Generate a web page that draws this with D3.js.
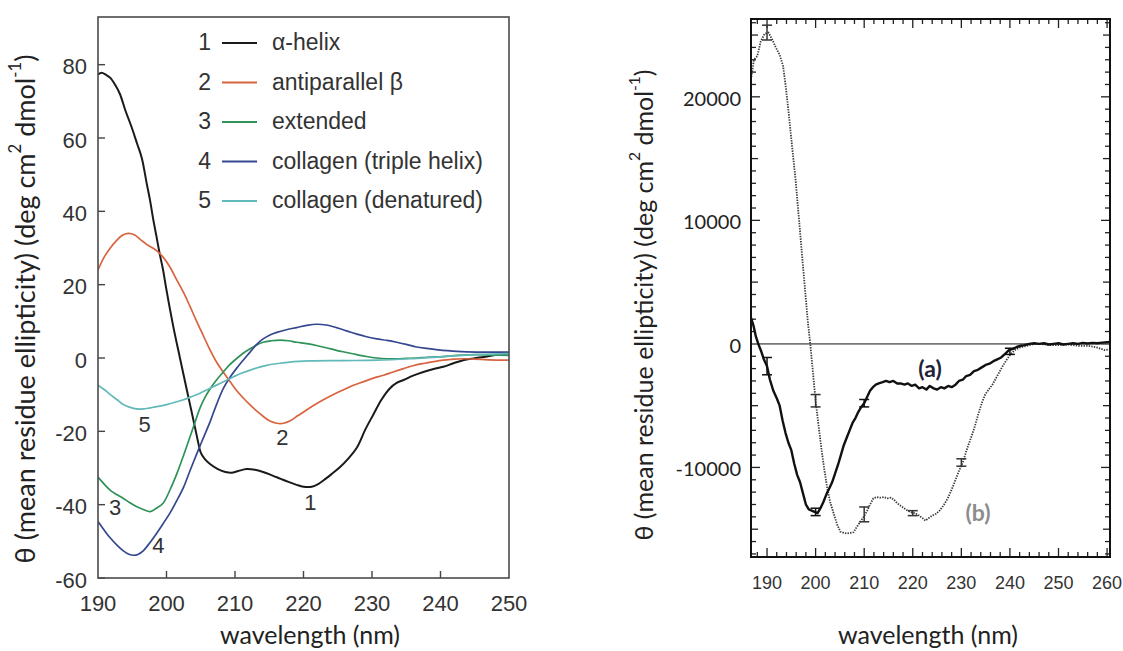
<!DOCTYPE html>
<html><head><meta charset="utf-8">
<script src="https://cdn.jsdelivr.net/npm/d3@7"></script>
<style>html,body{margin:0;padding:0;background:#fff;}svg{display:block;}</style>
</head><body>
<svg id="c" width="1123" height="651"></svg>
<script>
// ---------- LEFT PANEL DATA ----------
const leftXTicks = [190,200,210,220,230,240,250];
const leftYTicks = [-60,-40,-20,0,20,40,60,80];
const legendNums = ["1","2","3","4","5"];
const legendNames = ["\u03b1-helix","antiparallel \u03b2","extended","collagen (triple helix)","collagen (denatured)"];
const seriesColors = ["#1a1a1a","#d8643f","#2f9258","#34478f","#62b9b9"];

const helix = [[190,77.3],[190.5,77.8],[191.2,77.2],[191.8,76.4],[192.5,74.5],[193.2,72],[194,67.5],[194.9,63],[195.7,58.5],[196.4,54.5],[197.1,47.7],[197.6,43],[198,38.5],[198.5,33.5],[199,28.5],[199.5,24],[200,18.5],[201,8.5],[202,-0.3],[203,-9],[204,-17.5],[204.6,-22.8],[205,-25.8],[205.6,-27.6],[206.4,-29],[207.5,-30.3],[208.6,-31.1],[209.5,-31.3],[210.5,-30.8],[211.7,-30.3],[212.9,-30.5],[214.1,-31.1],[215.4,-32],[216.6,-32.9],[217.8,-33.8],[219,-34.6],[220,-35.1],[221.2,-35.1],[222.2,-34.3],[222.9,-33.4],[224,-31.8],[225.3,-29.8],[226.5,-27.5],[227.8,-24.4],[229,-19.6],[230.2,-15.4],[231.4,-11.3],[232.6,-8.3],[233.6,-6.8],[234.6,-6],[236,-4.8],[237.5,-3.8],[239,-3],[240.4,-2.4],[241.8,-1.5],[243.3,-0.6],[244.8,-0.1],[246.3,0.3],[248,0.8],[250,1.2]];
const antiparallel = [[190,24],[190.9,27.5],[191.8,30],[192.7,32],[193.5,33.4],[194.4,34],[195.3,33.6],[196.2,32.3],[197.1,31],[198,30],[198.6,29.2],[199.5,27.5],[200.5,24.8],[201.5,21.3],[202.5,17.8],[203.4,14.2],[204.4,10],[205.4,6],[206.3,2.4],[207.3,-1.1],[208.3,-3.9],[209.3,-6.5],[210.2,-8.8],[211.2,-10.9],[212.2,-12.8],[213.2,-14.5],[214.1,-15.9],[215.1,-17.2],[216.1,-17.8],[217.1,-17.8],[218,-17.2],[219.2,-15.7],[220.5,-14.1],[221.7,-12.7],[222.9,-11.4],[224.3,-10],[225.8,-8.7],[227.2,-7.5],[228.7,-6.5],[230.2,-5.5],[231.7,-4.7],[233.1,-3.8],[234.6,-2.9],[236,-2.1],[237.5,-1.5],[239,-1],[240.4,-0.6],[242,-0.3],[243.3,-0.2],[245,-0.3],[247,-0.5],[250,-0.6]];
const extended = [[190,-32.5],[191,-34.6],[191.8,-36.1],[192.8,-37.3],[193.7,-38.3],[194.6,-39.4],[195.6,-40.5],[196.6,-41.3],[197.6,-41.9],[198.5,-41],[199.5,-39.6],[200.5,-36],[201.5,-31.6],[202.5,-26.5],[203.4,-21.7],[204.2,-17.3],[204.9,-13.6],[205.6,-10.8],[206.4,-8.3],[207.3,-6],[208.3,-3.8],[209.2,-1.9],[210.2,-0.2],[211.2,1.3],[212.2,2.5],[213.1,3.5],[214.1,4.3],[215.3,4.7],[216.6,4.9],[217.8,4.7],[219,4.3],[220.5,3.9],[221.9,3.4],[223.3,2.8],[224.8,2.1],[226.3,1.5],[227.8,0.9],[229.2,0.4],[230.7,0],[232.2,-0.2],[233.6,-0.2],[235,-0.1],[236.5,0],[238,0.2],[239.4,0.3],[241,0.5],[242.4,0.7],[245.3,0.9],[247.5,0.8],[250,0.7]];
const collagenTriple = [[190,-44.6],[191,-47.2],[191.8,-49.1],[192.8,-51.1],[193.7,-52.6],[194.5,-53.5],[195.2,-53.8],[195.9,-53.5],[196.6,-52.6],[197.6,-50.3],[198.6,-47.7],[199.5,-45.2],[200.5,-42.3],[201.5,-38.9],[202.5,-35.2],[203.4,-30.9],[204.4,-26.2],[205.4,-21.7],[206.4,-17.2],[207.3,-12.7],[208.3,-8.3],[209.3,-5.2],[210.2,-2.9],[211.2,-0.6],[212.2,1.6],[213.1,3.6],[214.1,5.2],[215.1,6.3],[216.1,7],[217.5,7.7],[219,8.3],[220.5,8.9],[221.9,9.2],[223.3,9],[224.8,8.3],[226.3,7.4],[227.8,6.5],[229.2,5.8],[230.7,5.2],[232.2,4.8],[233.6,4.3],[235,3.7],[236.5,3],[238,2.6],[239.4,2.3],[241,2],[242.4,1.8],[245.3,1.6],[250,1.6]];
const collagenDenat = [[190,-7.4],[190.9,-8.6],[191.8,-10],[192.8,-11.4],[193.7,-12.7],[194.6,-13.4],[195.6,-13.9],[196.6,-13.9],[197.6,-13.6],[198.8,-13.2],[200,-12.7],[201.2,-12.1],[202.5,-11.4],[203.7,-10.5],[204.9,-9.6],[206.1,-8.5],[207.3,-7.4],[208.6,-6.2],[209.8,-5.1],[211,-4.1],[212.2,-3.3],[213.4,-2.6],[214.6,-2],[216.3,-1.5],[218,-1.1],[220.9,-0.8],[225.8,-0.7],[230.7,-0.6],[235.5,-0.2],[240.4,0.4],[245.3,0.9],[250,1.2]];
const leftSeries = [helix, antiparallel, extended, collagenTriple, collagenDenat];
// curve number labels: [wavelength, value]
const curveLabelNums = ["5","2","1","3","4"];
const curveLabelPos = [[196.8,-18.2],[216.9,-21.8],[221,-39.4],[192.5,-40.7],[198.8,-51.2]];

// ---------- RIGHT PANEL DATA ----------
const rightXTicks = [190,200,210,220,230,240,250,260];
const rightYTicks = [-10000,0,10000,20000];
const sampleA = [[186.7,2100],[187.2,1500],[187.7,600],[188.2,0],[188.8,-600],[189.3,-1200],[190,-1800],[190.6,-2900],[191.3,-3800],[192,-4400],[192.6,-5000],[193.2,-6200],[193.8,-7200],[194.4,-8000],[195,-8600],[195.6,-9700],[196.2,-10600],[196.8,-11200],[197.4,-12100],[198,-13000],[198.6,-13400],[199.2,-13500],[199.8,-13600],[200.4,-13700],[201,-13300],[201.6,-12800],[202.2,-12200],[202.8,-11700],[203.4,-11200],[204,-10500],[204.6,-9800],[205.2,-9000],[205.8,-8200],[206.4,-7600],[207,-7000],[207.6,-6400],[208.2,-6000],[208.8,-5500],[209.4,-5100],[210,-4800],[210.6,-4300],[211.2,-3800],[211.8,-3500],[212.4,-3300],[213,-3200],[213.8,-3100],[214.5,-3000],[215.2,-3100],[216,-3000],[216.8,-3200],[217.5,-3200],[218.3,-3300],[219,-3200],[219.8,-3400],[220.5,-3300],[221.3,-3600],[222,-3500],[222.8,-3700],[223.5,-3400],[224.3,-3600],[225,-3700],[225.8,-3500],[226.5,-3600],[227.3,-3400],[228,-3500],[228.8,-3300],[229.5,-3000],[230.3,-2900],[231,-2600],[231.8,-2500],[232.6,-2200],[233.4,-2100],[234.2,-1900],[235,-1700],[235.8,-1600],[236.6,-1400],[237.4,-1250],[238.2,-1100],[239,-800],[239.8,-500],[240.6,-400],[241.4,-250],[242.2,-150],[243,-100],[244,0],[245,50],[246,0],[247,50],[248,-50],[249,0],[250,50],[251,-50],[252,0],[253,50],[254,0],[255,80],[256,30],[257,80],[258,50],[259,100],[260.6,150]];
const sampleB = [[186.7,21400],[187.3,23000],[188,23300],[188.7,24500],[189.5,25100],[190.3,25200],[191,24700],[191.8,24000],[192.6,23400],[193.3,22500],[193.8,21000],[194.4,18900],[195.1,16200],[195.9,13200],[196.6,10000],[197.2,7200],[197.8,4500],[198.4,1800],[198.9,0],[199.5,-2500],[200,-4600],[200.6,-6600],[201.2,-8500],[201.8,-10200],[202.4,-11700],[203,-12800],[203.7,-13700],[204.4,-14600],[205.1,-15200],[205.8,-15300],[206.5,-15350],[207.2,-15300],[207.8,-15250],[208.5,-14800],[209.2,-14400],[209.9,-14000],[210.5,-13600],[211.2,-13000],[211.9,-12500],[212.6,-12400],[213.3,-12450],[214,-12400],[214.8,-12500],[215.5,-12450],[216.1,-12600],[216.8,-12900],[217.5,-13100],[218.2,-13300],[219,-13500],[219.8,-13650],[220.5,-13700],[221.3,-13900],[222,-14100],[222.6,-14300],[223.3,-14100],[224,-13900],[224.8,-13750],[225.5,-13500],[226.3,-13100],[227.2,-12500],[228,-11800],[228.8,-11000],[229.6,-10200],[230.3,-9600],[231,-8700],[231.8,-7800],[232.6,-6900],[233.4,-5800],[234.2,-4800],[234.9,-4100],[235.6,-3700],[236.4,-3300],[237.1,-2800],[237.8,-2300],[238.5,-1800],[239.3,-1300],[240.2,-800],[241,-500],[242,-300],[243,-200],[244,-100],[245,0],[246.5,0],[248,-100],[250,-100],[252,-50],[254,-150],[256,-150],[258,-300],[259.5,-500],[260.6,-450]];
// error bars: [wavelength, value, half-error]
const errA = [[190,-1800,700],[200,-13600,300],[210,-4800,300],[240,-600,250]];
const errB = [[190,25200,600],[200,-4600,500],[210,-13800,600],[220,-13700,200],[230,-9600,300]];

const svg = d3.select("#c");
const SANS = "'Liberation Sans', Arial, sans-serif";
const HUM = "Lato, 'Open Sans', sans-serif";

// ================= LEFT PANEL =================
const xL = d3.scaleLinear().domain([190,250]).range([98,509]);
const yL = d3.scaleLinear().domain([-60,93]).range([578,17]);
const gL = svg.append("g");

gL.selectAll("line.yt").data(leftYTicks).join("line")
  .attr("x1", xL(190)).attr("x2", xL(190)+7)
  .attr("y1", d=>yL(d)).attr("y2", d=>yL(d))
  .attr("stroke","#444").attr("stroke-width",1.4);
gL.selectAll("line.xt").data(leftXTicks.slice(1,-1)).join("line")
  .attr("x1", d=>xL(d)).attr("x2", d=>xL(d))
  .attr("y1", yL(-60)).attr("y2", yL(-60)-7)
  .attr("stroke","#444").attr("stroke-width",1.4);

gL.selectAll("text.yl").data(leftYTicks).join("text")
  .attr("x", xL(190)-11).attr("y", d=>yL(d)+2)
  .attr("text-anchor","end").attr("dominant-baseline","central")
  .attr("font-family",SANS).attr("font-size",22).attr("fill","#333")
  .text(d=>d);
gL.selectAll("text.xl").data(leftXTicks).join("text")
  .attr("x", d=>xL(d)).attr("y", 603)
  .attr("text-anchor","middle").attr("dominant-baseline","central")
  .attr("font-family",SANS).attr("font-size",22).attr("fill","#333")
  .text(d=>d);

svg.append("clipPath").attr("id","clipL").append("rect")
  .attr("x",xL(190)).attr("y",yL(93)).attr("width",xL(250)-xL(190)).attr("height",yL(-60)-yL(93));

const lineL = d3.line().x(d=>xL(d[0])).y(d=>yL(d[1])).curve(d3.curveCatmullRom.alpha(0.5));
gL.append("g").attr("clip-path","url(#clipL)")
  .selectAll("path").data(leftSeries).join("path")
  .attr("d", lineL).attr("fill","none")
  .attr("stroke",(d,i)=>seriesColors[i]).attr("stroke-width",(d,i)=>i===0?2:1.7);

gL.append("rect").attr("x",xL(190)).attr("y",yL(93))
  .attr("width",xL(250)-xL(190)).attr("height",yL(-60)-yL(93))
  .attr("fill","none").attr("stroke","#4a4a4a").attr("stroke-width",1.6);

// legend
const legY = d3.scalePoint().domain(legendNums).range([42,200]);
const lg = gL.append("g");
lg.selectAll("text.n").data(legendNums).join("text")
  .attr("x",211).attr("y",d=>legY(d)).attr("text-anchor","end").attr("dominant-baseline","central")
  .attr("font-family",SANS).attr("font-size",23).attr("fill","#333").text(d=>d);
lg.selectAll("line").data(legendNums).join("line")
  .attr("x1",222).attr("x2",257).attr("y1",d=>legY(d)+1).attr("y2",d=>legY(d)+1)
  .attr("stroke",(d,i)=>seriesColors[i]).attr("stroke-width",1.8);
lg.selectAll("text.t").data(legendNames).join("text")
  .attr("x",272).attr("y",(d,i)=>legY(legendNums[i])).attr("dominant-baseline","central")
  .attr("font-family",SANS).attr("font-size",23).attr("fill","#333").text(d=>d);

gL.selectAll("text.cl").data(curveLabelNums).join("text")
  .attr("x",(d,i)=>xL(curveLabelPos[i][0])).attr("y",(d,i)=>yL(curveLabelPos[i][1]))
  .attr("text-anchor","middle").attr("dominant-baseline","central")
  .attr("font-family",SANS).attr("font-size",22).attr("fill","#333").text(d=>d);

gL.append("text").attr("x",310).attr("y",634).attr("text-anchor","middle").attr("dominant-baseline","central")
  .attr("font-family",HUM).attr("font-size",25).attr("fill","#222").text("wavelength (nm)");

function yTitle(g, x, y, size){
  const t = g.append("text").attr("transform",`translate(${x},${y}) rotate(-90)`)
    .attr("text-anchor","middle").attr("dominant-baseline","central")
    .attr("font-family",HUM).attr("font-size",size).attr("fill","#222");
  t.append("tspan").text("\u03b8 (mean residue ellipticity) (deg cm");
  t.append("tspan").attr("font-size",size*0.62).attr("dy",-size*0.38).text("2");
  t.append("tspan").attr("dy",size*0.38).text(" dmol");
  t.append("tspan").attr("font-size",size*0.62).attr("dy",-size*0.38).text("-1");
  t.append("tspan").attr("dy",size*0.38).text(")");
  return t;
}
yTitle(gL, 24, 309, 27);

// ================= RIGHT PANEL =================
const xR = d3.scaleLinear().domain([186.7,260.6]).range([751,1110]);
const yR = d3.scaleLinear().domain([-17250,26300]).range([557,19]);
const gR = svg.append("g");

const xTickVals = d3.range(188,261,2);
const yTickVals = d3.range(-17000,26001,1000);
const tlen = v => v%10===0 ? 9 : 5;
const tlenY = v => v%10000===0 ? 9 : (v%5000===0 ? 7 : 5);
const tickG = gR.append("g").attr("stroke","#222").attr("stroke-width",1.3);
tickG.selectAll("line.b").data(xTickVals).join("line")
  .attr("x1",d=>xR(d)).attr("x2",d=>xR(d)).attr("y1",yR.range()[0]).attr("y2",d=>yR.range()[0]-tlen(d));
tickG.selectAll("line.t").data(xTickVals).join("line")
  .attr("x1",d=>xR(d)).attr("x2",d=>xR(d)).attr("y1",yR.range()[1]).attr("y2",d=>yR.range()[1]+tlen(d));
tickG.selectAll("line.l").data(yTickVals).join("line")
  .attr("x1",xR.range()[0]).attr("x2",d=>xR.range()[0]+tlenY(d)).attr("y1",d=>yR(d)).attr("y2",d=>yR(d));
tickG.selectAll("line.r").data(yTickVals).join("line")
  .attr("x1",xR.range()[1]).attr("x2",d=>xR.range()[1]-tlenY(d)).attr("y1",d=>yR(d)).attr("y2",d=>yR(d));

gR.append("line").attr("x1",xR.range()[0]).attr("x2",xR.range()[1]).attr("y1",yR(0)).attr("y2",yR(0))
  .attr("stroke","#777").attr("stroke-width",1.6);

svg.append("clipPath").attr("id","clipR").append("rect")
  .attr("x",751).attr("y",19).attr("width",359).attr("height",538);
const lineR = d3.line().x(d=>xR(d[0])).y(d=>yR(d[1]));
const cR = gR.append("g").attr("clip-path","url(#clipR)");
cR.append("path").datum(sampleB).attr("d",lineR).attr("fill","none")
  .attr("stroke","#3a3a3a").attr("stroke-width",1.8).attr("stroke-dasharray","1.4,1.2");
cR.append("path").datum(sampleA).attr("d",lineR).attr("fill","none")
  .attr("stroke","#111").attr("stroke-width",2.4).attr("stroke-linejoin","round");

function errBars(data, color){
  const g = cR.append("g").attr("stroke",color).attr("stroke-width",1.5);
  g.selectAll("line.v").data(data).join("line")
    .attr("x1",d=>xR(d[0])).attr("x2",d=>xR(d[0])).attr("y1",d=>yR(d[1]+d[2])).attr("y2",d=>yR(d[1]-d[2]));
  g.selectAll("line.u").data(data).join("line")
    .attr("x1",d=>xR(d[0])-5).attr("x2",d=>xR(d[0])+5).attr("y1",d=>yR(d[1]+d[2])).attr("y2",d=>yR(d[1]+d[2]));
  g.selectAll("line.d").data(data).join("line")
    .attr("x1",d=>xR(d[0])-5).attr("x2",d=>xR(d[0])+5).attr("y1",d=>yR(d[1]-d[2])).attr("y2",d=>yR(d[1]-d[2]));
}
errBars(errB,"#333");
errBars(errA,"#111");

gR.append("rect").attr("x",751).attr("y",19).attr("width",359).attr("height",538)
  .attr("fill","none").attr("stroke","#111").attr("stroke-width",2);

gR.selectAll("text.yl").data(rightYTicks).join("text")
  .attr("x",741).attr("y",d=>yR(d)+1).attr("text-anchor","end").attr("dominant-baseline","central")
  .attr("font-family",HUM).attr("font-size",20).attr("fill","#222").text(d=>d);
gR.selectAll("text.xl").data(rightXTicks).join("text")
  .attr("x",d=>xR(d)).attr("y",583).attr("text-anchor","middle").attr("dominant-baseline","central")
  .attr("font-family",SANS).attr("font-size",18).attr("fill","#333").text(d=>d);

gR.append("text").attr("x",930).attr("y",368).attr("text-anchor","middle").attr("dominant-baseline","central")
  .attr("font-family",HUM).attr("font-weight","bold").attr("font-size",23).attr("fill","#1d2238").text("(a)");
gR.append("text").attr("x",978).attr("y",512).attr("text-anchor","middle").attr("dominant-baseline","central")
  .attr("font-family",HUM).attr("font-weight","bold").attr("font-size",23).attr("fill","#8c8c8c").text("(b)");

gR.append("text").attr("x",928).attr("y",634).attr("text-anchor","middle").attr("dominant-baseline","central")
  .attr("font-family",HUM).attr("font-size",25).attr("fill","#222").text("wavelength (nm)");
yTitle(gR, 643, 305, 25);
</script>
</body></html>
